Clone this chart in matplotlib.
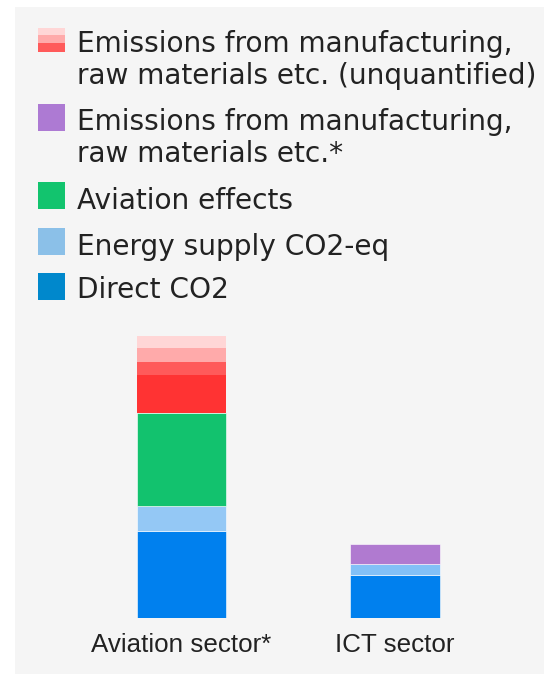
import matplotlib.pyplot as plt
from matplotlib.patches import Rectangle

# sector totals split by source (relative units, direct CO2 of aviation = 1)
sectors = ["Aviation sector*", "ICT sector"]
direct_co2 = [1.0, 0.49]
energy_supply = [0.29, 0.135]
aviation_effects = [1.07, 0.0]
manufacturing = [0.0, 0.22]
# unquantified manufacturing emissions, drawn as fading bands (aviation only)
unquantified = [0.44, 0.15, 0.16, 0.14]

legend_labels = [
    ["Emissions from manufacturing,", "raw materials etc. (unquantified)"],
    ["Emissions from manufacturing,", "raw materials etc.*"],
    ["Aviation effects"],
    ["Energy supply CO2-eq"],
    ["Direct CO2"],
]

W, H = 544, 674
fig = plt.figure(figsize=(W / 100, H / 100), dpi=100, facecolor="white")


def fx(x):
    return x / W


def fy(y):
    return 1 - y / H


# light grey panel behind everything
fig.patches.append(Rectangle((fx(15), 0), 1 - fx(15), fy(7), transform=fig.transFigure,
                             facecolor="#f5f5f5", edgecolor="none", zorder=-1))

px_per_unit = 86.7
bottom_px = 617.7
ax_h = 3.5 * px_per_unit
ax = fig.add_axes([fx(181.5 - 0.5 * 213.5), (H - bottom_px) / H, 427 / W, ax_h / H])
ax.set_zorder(1)
ax.set_facecolor("none")
ax.set_xlim(-0.5, 1.5)
ax.set_ylim(0, 3.5)

x = [0, 1]
bw = 0.417
edge = dict(edgecolor="white", linewidth=0.4)
ax.bar(x, direct_co2, bw, color="#0080ee", **edge)
b1 = [d for d in direct_co2]
ax.bar(x, energy_supply, bw, bottom=b1, color=["#94c8f5", "#82c0f7"], **edge)
b2 = [a + b for a, b in zip(b1, energy_supply)]
ax.bar(x[0], aviation_effects[0], bw, bottom=b2[0], color="#12c26e", **edge)
ax.bar(x[1], manufacturing[1], bw, bottom=b2[1], color="#b07ad0", **edge)

base = b2[0] + aviation_effects[0]
for val, col in zip(unquantified, ["#ff3333", "#ff5a5a", "#ffaaaa", "#ffd6d6"]):
    ax.bar(x[0], val, bw, bottom=base, color=col, edgecolor="none")
    base += val

ax.set_xticks(x)
ax.set_xticklabels(sectors, fontsize=18.7, family="Liberation Sans", color="#222222")
ax.tick_params(axis="x", length=0, pad=11)
ax.set_yticks([])
for s in ax.spines.values():
    s.set_visible(False)

# legend drawn by hand so the first swatch can show the fading bands
swatch_tops = [28, 104, 182, 228, 273]
swatch_colors = [None, "#ad7ad3", "#12c46e", "#8bc0e8", "#0088cc"]
baselines = [[52, 84], [130, 162], [209], [255], [298.5]]
for top, col, lines, bl in zip(swatch_tops, swatch_colors, legend_labels, baselines):
    if col is None:
        for y0, y1, c in [(28, 35, "#ffd6d6"), (35, 43, "#ffaaaa"), (43, 52, "#ff5a5a")]:
            fig.patches.append(Rectangle((fx(37.5), fy(y1)), 27 / W, (y1 - y0) / H,
                                         transform=fig.transFigure, facecolor=c,
                                         edgecolor="none"))
    else:
        fig.patches.append(Rectangle((fx(37.5), fy(top + 26.5)), 27 / W, 26.5 / H,
                                     transform=fig.transFigure, facecolor=col,
                                     edgecolor="none"))
    for line, b in zip(lines, bl):
        fig.text(fx(77), fy(b), line, fontsize=20.2, family="DejaVu Sans",
                 color="#222222", va="baseline", ha="left")

fig.savefig("out.png", dpi=100)
